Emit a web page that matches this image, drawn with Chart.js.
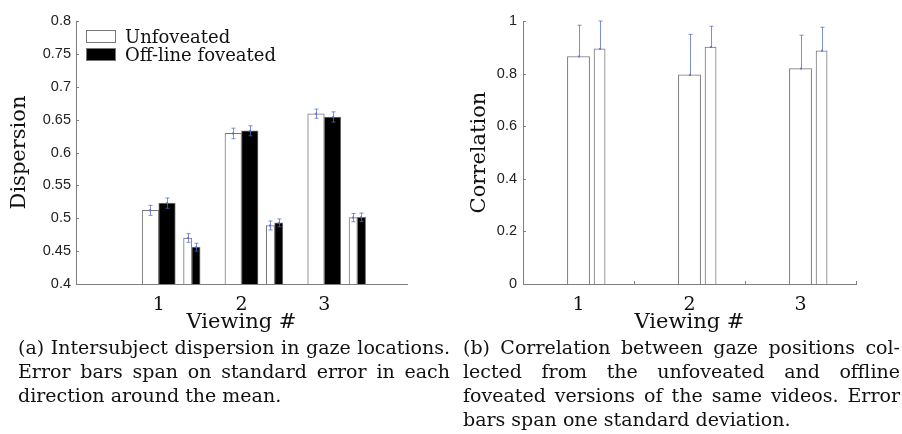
<!DOCTYPE html>
<html>
<head>
<meta charset="utf-8">
<script src="https://cdn.jsdelivr.net/npm/chart.js@4.4.1/dist/chart.umd.min.js"></script>
<style>
  html, body { margin: 0; padding: 0; background: #fff; }
  body { width: 902px; height: 434px; position: relative; overflow: hidden; }
  canvas { position: absolute; top: 0; }
  #c1 { left: 0; }
  #c2 { left: 451px; }
  .cap { position: absolute; top: 335px; font-family: 'DejaVu Serif', serif; font-size: 19px; line-height: 24px; color: #111; }
  .cap div { text-align: justify; text-align-last: justify; }
  .cap div.last { text-align: left; text-align-last: left; }
  #capA { left: 18px; width: 432px; }
  #capB { left: 463px; width: 437px; }
</style>
</head>
<body>
<canvas id="c1" width="451" height="340"></canvas>
<canvas id="c2" width="451" height="340"></canvas>
<div class="cap" id="capA">
  <div>(a) Intersubject dispersion in gaze locations.</div>
  <div>Error bars span on standard error in each</div>
  <div class="last">direction around the mean.</div>
</div>
<div class="cap" id="capB">
  <div>(b) Correlation between gaze positions col-</div>
  <div>lected from the unfoveated and offline</div>
  <div>foveated versions of the same videos. Error</div>
  <div class="last">bars span one standard deviation.</div>
</div>
<script>
// ---------- data ----------
const viewings = [1, 2, 3];
const viewingLabels = ['1', '2', '3'];

// (a) dispersion
const unfoveated = [0.512, 0.629, 0.659];
const unfoveatedErr = [0.0076, 0.0080, 0.0070];
const offlineFoveated = [0.523, 0.633, 0.654];
const offlineFoveatedErr = [0.0078, 0.0076, 0.0078];
const unfoveatedB = [0.470, 0.489, 0.501];
const unfoveatedBErr = [0.0066, 0.0068, 0.0063];
const offlineFoveatedB = [0.456, 0.493, 0.5015];
const offlineFoveatedBErr = [0.0060, 0.0060, 0.0063];
const dispersionTicks = [0.4, 0.45, 0.5, 0.55, 0.6, 0.65, 0.7, 0.75, 0.8];
const dispersionTickLabels = ['0.4', '0.45', '0.5', '0.55', '0.6', '0.65', '0.7', '0.75', '0.8'];

// (b) correlation
const correlationA = [0.865, 0.795, 0.819];
const correlationASd = [0.119, 0.154, 0.127];
const correlationB = [0.894, 0.901, 0.887];
const correlationBSd = [0.106, 0.079, 0.089];
const correlationTicks = [0, 0.2, 0.4, 0.6, 0.8, 1];
const correlationTickLabels = ['0', '0.2', '0.4', '0.6', '0.8', '1'];

// ---------- styles ----------
const AXIS = '#808080';
const EDGE = '#777777';
const ERR = 'rgba(80, 105, 210, 0.75)';
const serif = 'DejaVu Serif';
const sans = 'Liberation Sans';

function series(values, offset) {
  return viewings.map((v, i) => ({ x: v + offset, y: values[i] }));
}

function barDs(label, values, err, offset, widthUnits, fill, extra) {
  return Object.assign({
    label: label,
    data: series(values, offset),
    err: err,
    widthUnits: widthUnits,
    backgroundColor: fill,
    borderColor: EDGE,
    borderWidth: 1,
    borderSkipped: 'start',
    grouped: false,
    barThickness: 10
  }, extra || {});
}

const errorBarsPlugin = {
  id: 'errorBars',
  afterDatasetsDraw(chart) {
    const ctx = chart.ctx, xs = chart.scales.x, ys = chart.scales.y;
    const cap = 2;
    ctx.save();
    ctx.strokeStyle = ERR;
    ctx.fillStyle = ERR;
    ctx.lineWidth = 1;
    chart.data.datasets.forEach(ds => {
      if (!ds.err) return;
      ds.data.forEach((p, i) => {
        const e = ds.err[i];
        const x = Math.round(xs.getPixelForValue(p.x)) + 0.5;
        const yT = ys.getPixelForValue(p.y + e);
        const yB = ys.getPixelForValue(ds.upOnly ? p.y : p.y - e);
        ctx.beginPath();
        ctx.moveTo(x, yT); ctx.lineTo(x, yB);
        ctx.moveTo(x - cap, yT); ctx.lineTo(x + cap, yT);
        if (!ds.upOnly) { ctx.moveTo(x - cap, yB); ctx.lineTo(x + cap, yB); }
        ctx.stroke();
        const yM = ys.getPixelForValue(p.y);
        ctx.fillRect(x - 1.5, yM - 1, 2, 2);
      });
    });
    ctx.restore();
  }
};

const inwardTicksPlugin = {
  id: 'inwardTicks',
  afterDraw(chart, args, opts) {
    const ctx = chart.ctx, xs = chart.scales.x, ys = chart.scales.y, a = chart.chartArea;
    ctx.save();
    ctx.strokeStyle = AXIS;
    ctx.lineWidth = 1;
    ctx.beginPath();
    ys.ticks.forEach(t => {
      const y = Math.round(ys.getPixelForValue(t.value)) + 0.5;
      ctx.moveTo(a.left, y); ctx.lineTo(a.left + 3, y);
    });
    (opts.xTicks || []).forEach(v => {
      const x = Math.round(xs.getPixelForValue(v)) + 0.5;
      ctx.moveTo(x, a.bottom); ctx.lineTo(x, a.bottom - 3);
    });
    ctx.stroke();
    ctx.restore();
  }
};

const boxLegendPlugin = {
  id: 'boxLegend',
  afterDraw(chart, args, opts) {
    if (!opts.display) return;
    const ctx = chart.ctx, a = chart.chartArea;
    const items = chart.data.datasets.filter(d => d.inLegend);
    ctx.save();
    ctx.font = opts.font;
    ctx.textBaseline = 'alphabetic';
    ctx.textAlign = 'left';
    items.forEach((d, i) => {
      const x = a.left + opts.offsetX;
      const base = a.top + opts.offsetY + i * opts.spacing;
      const top = Math.round(base - opts.boxH);
      ctx.fillStyle = d.backgroundColor;
      ctx.fillRect(x, top, opts.boxW, opts.boxH);
      ctx.strokeStyle = d.borderColor;
      ctx.lineWidth = 1;
      ctx.strokeRect(x + 0.5, top + 0.5, opts.boxW - 1, opts.boxH - 1);
      ctx.fillStyle = opts.color;
      ctx.fillText(d.label, x + opts.boxW + opts.gap, base);
    });
    ctx.restore();
  }
};

function makeChart(id, datasets, cfg) {
  const chart = new Chart(document.getElementById(id), {
    type: 'bar',
    data: { datasets: datasets },
    plugins: [errorBarsPlugin, inwardTicksPlugin, boxLegendPlugin],
    options: {
      responsive: false,
      animation: false,
      layout: { padding: { left: 0, top: 21, right: cfg.padRight, bottom: 0 } },
      plugins: {
        legend: { display: false },
        tooltip: { enabled: false },
        inwardTicks: { xTicks: cfg.xInward },
        boxLegend: cfg.legend
      },
      scales: {
        x: {
          type: 'linear',
          offset: false,
          min: cfg.xMin, max: cfg.xMax,
          grid: { display: false, drawTicks: false },
          border: { display: true, color: AXIS, width: 1 },
          afterBuildTicks: s => { s.ticks = viewings.map(v => ({ value: v })); },
          afterFit: s => { s.height = 56; },
          ticks: {
            autoSkip: false, maxRotation: 0, padding: 10,
            color: '#111',
            font: { family: serif, size: 19 },
            callback: (v, i) => viewingLabels[i]
          },
          title: {
            display: true, text: 'Viewing #', color: '#111',
            font: { family: serif, size: 21, lineHeight: 1.2 },
            padding: { top: 0, bottom: 5 }
          }
        },
        y: {
          min: cfg.yMin, max: cfg.yMax,
          grid: { display: false, drawTicks: false },
          border: { display: true, color: AXIS, width: 1 },
          afterBuildTicks: s => { s.ticks = cfg.yTicks.map(v => ({ value: v })); },
          afterFit: s => { s.width = cfg.yWidth; },
          ticks: {
            autoSkip: false, padding: cfg.yTickPad,
            color: '#222',
            font: { family: sans, size: 14.5 },
            callback: (v, i) => cfg.yTickLabels[i]
          },
          title: {
            display: true, text: cfg.yTitle, color: '#111',
            font: { family: serif, size: 21, lineHeight: 1.2 },
            padding: { top: cfg.yTitlePad, bottom: 0 }
          }
        }
      }
    }
  });
  const xs = chart.scales.x;
  const ppu = xs.getPixelForValue(1) - xs.getPixelForValue(0);
  chart.data.datasets.forEach(d => { d.barThickness = d.widthUnits * ppu; });
  chart.update('none');
  return chart;
}

makeChart('c1', [
  barDs('Unfoveated', unfoveated, unfoveatedErr, -0.1, 0.2, '#ffffff', { inLegend: true }),
  barDs('Off-line foveated', offlineFoveated, offlineFoveatedErr, 0.1, 0.2, '#000000', { inLegend: true }),
  barDs('Unfoveated (b)', unfoveatedB, unfoveatedBErr, 0.35, 0.1, '#ffffff'),
  barDs('Off-line foveated (b)', offlineFoveatedB, offlineFoveatedBErr, 0.45, 0.1, '#000000')
], {
  padRight: 44, xMin: 0, xMax: 4, xInward: [],
  yMin: 0.4, yMax: 0.8, yTicks: dispersionTicks, yTickLabels: dispersionTickLabels,
  yWidth: 76, yTickPad: 5, yTitle: 'Dispersion', yTitlePad: 7,
  legend: { display: true, font: '18px "DejaVu Serif"', color: '#111',
            offsetX: 10, offsetY: 22.3, spacing: 17.7, boxW: 30, boxH: 13, gap: 9 }
});

makeChart('c2', [
  barDs('Correlation', correlationA, correlationASd, 0, 0.2, '#ffffff', { upOnly: true }),
  barDs('Correlation (b)', correlationB, correlationBSd, 0.19, 0.1, '#ffffff', { upOnly: true })
], {
  padRight: 46, xMin: 0.5, xMax: 3.5, xInward: [1.5, 2.5, 3.5],
  yMin: 0, yMax: 1, yTicks: correlationTicks, yTickLabels: correlationTickLabels,
  yWidth: 72, yTickPad: 6, yTitle: 'Correlation', yTitlePad: 16,
  legend: { display: false }
});
</script>
</body>
</html>
